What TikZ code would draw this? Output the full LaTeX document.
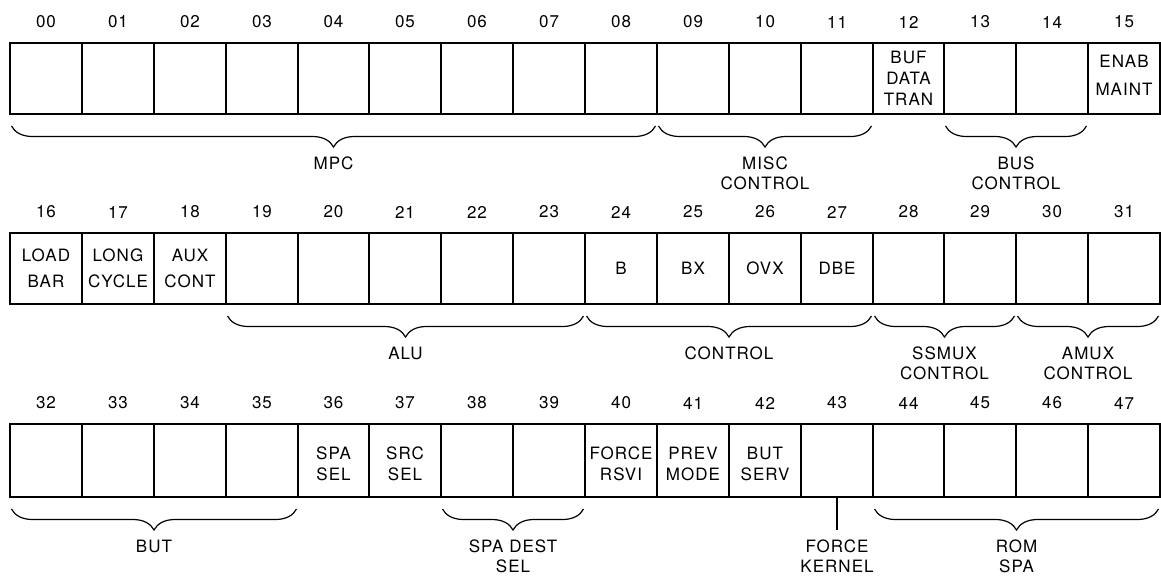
\documentclass[tikz,border=0pt]{standalone}
\usepackage{fontspec}
\setmainfont{TeX Gyre Heros}
\newfontfamily\lblfont[LetterSpace=6]{TeX Gyre Heros}
\usetikzlibrary{decorations.pathreplacing,calc}
\begin{document}
\begin{tikzpicture}[x=1pt,y=-1pt,
  cell/.style={draw, line width=1.3pt, inner sep=0pt, outer sep=0pt, anchor=north west},
  frame/.style={line width=2.2pt},
  num/.style={font=\lblfont\fontsize{17}{21}\selectfont, inner sep=0pt},
  txt/.style={font=\lblfont\fontsize{17}{21}\selectfont, inner sep=0pt, align=center},
  txtw/.style={font=\lblfont\fontsize{17}{26}\selectfont, inner sep=0pt, align=center},
  txtx/.style={font=\lblfont\fontsize{17}{28}\selectfont, inner sep=0pt, align=center},
  lab/.style={font=\lblfont\fontsize{17}{19.5}\selectfont, inner sep=0pt, align=center, anchor=north},
  brc/.style={line width=1.2pt, decorate, decoration={brace, mirror, amplitude=21pt}}]
\useasboundingbox (0,0) rectangle (1161,576);
% cells and bit numbers
\foreach \r/\top/\h in {0/43/71,1/233/71,2/424/73} {
  \foreach \i in {0,...,15} {
    \pgfmathtruncatemacro{\n}{16*\r+\i}
    \pgfmathtruncatemacro{\xa}{round(10+\i*71.875)}
    \pgfmathtruncatemacro{\xb}{round(10+(\i+1)*71.875)}
    \pgfmathtruncatemacro{\w}{\xb-\xa}
    \node[cell, minimum width=\w pt, minimum height=\h pt] (b\n) at (\xa,\top) {};
    \node[num] (n\n) at ($(b\n.north)+(0,-21)$) {\ifnum\n<10 0\fi\n};
  }
}
% outer frames
\draw[frame] (b0.north west) rectangle (b15.south east);
\draw[frame] (b16.north west) rectangle (b31.south east);
\draw[frame] (b32.north west) rectangle (b47.south east);
% cell texts
\node[txt] (t12) at (b12) {BUF\\DATA\\TRAN};
\node[txtx] (t15) at ([yshift=3pt]b15) {ENAB\\MAINT};
\node[txtw] (t16) at (b16) {LOAD\\BAR};
\node[txtw] (t17) at (b17) {LONG\\CYCLE};
\node[txtw] (t18) at (b18) {AUX\\CONT};
\node[txt] (t24) at (b24) {B};
\node[txt] (t25) at (b25) {BX};
\node[txt] (t26) at (b26) {OVX};
\node[txt] (t27) at (b27) {DBE};
\node[txt] (t36) at ([yshift=-3pt]b36) {SPA\\SEL};
\node[txt] (t37) at ([yshift=-3pt]b37) {SRC\\SEL};
\node[txt] (t40) at ([yshift=-3pt]b40) {FORCE\\RSVI};
\node[txt] (t41) at ([yshift=-3pt]b41) {PREV\\MODE};
\node[txt] (t42) at ([yshift=-3pt]b42) {BUT\\SERV};
% braces with labels
\foreach \a/\b/\t/\nm in {0/8/MPC/lmpc, 9/11/MISC\\CONTROL/lmisc, 13/14/BUS\\CONTROL/lbus,
    19/23/ALU/lalu, 24/27/CONTROL/lctl, 28/29/SSMUX\\CONTROL/lssm, 30/31/AMUX\\CONTROL/lamx,
    32/35/BUT/lbut, 38/39/SPA DEST\\SEL/lspa, 44/47/ROM\\SPA/lrom} {
  \draw[brc] ([xshift=1.5pt,yshift=-12pt]b\a.south west) -- ([xshift=-1.5pt,yshift=-12pt]b\b.south east);
  \node[lab] (\nm) at ($(b\a.south west)!0.5!(b\b.south east)+(0,43)$) {\t};
}
% force kernel
\node[lab] (kern) at ($(b43.south)+(0,43)$) {FORCE\\KERNEL};
\draw[line width=1.2pt] (b43.south) -- ([yshift=10pt]kern.north);
\end{tikzpicture}
\end{document}
